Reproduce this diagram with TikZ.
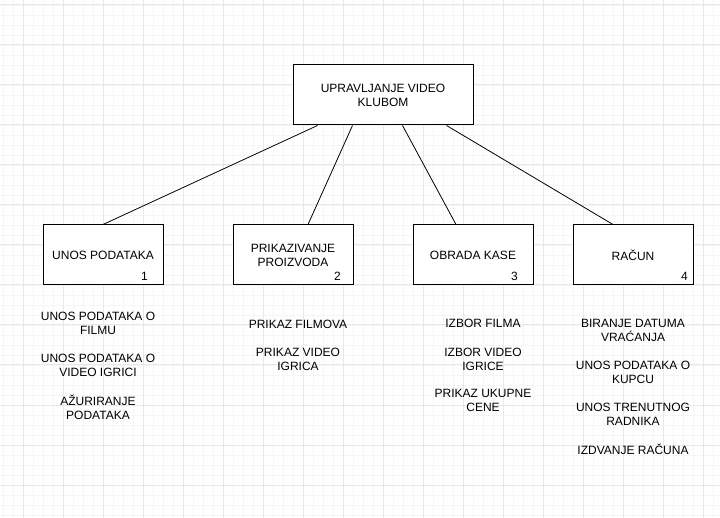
\documentclass[tikz,border=0pt]{standalone}
\usepackage{fontspec}
\setmainfont{Liberation Sans}
\begin{document}
\begin{tikzpicture}[x=1pt,y=-1pt,
  box/.style={draw=black,line width=1pt,fill=white,minimum width=120pt,minimum height=60pt,inner sep=0pt},
  txt/.style={align=center,font=\fontsize{12}{14}\selectfont,inner sep=0pt},
  num/.style={font=\fontsize{12}{14}\selectfont,inner sep=0pt},
  link/.style={draw=black,line width=0.8pt}]
\useasboundingbox (0,0) rectangle (720,518);
\fill[white] (0,0) rectangle (720,518);
% minor grid
\foreach \x in {3,13,...,720} \draw[black!4,line width=0.8pt] (\x,0) -- (\x,518);
\foreach \y in {5,15,...,518} \draw[black!4,line width=0.8pt] (0,\y) -- (720,\y);
% major grid
\foreach \x in {23,63,...,720} \draw[black!9,line width=1pt] (\x,0) -- (\x,518);
\foreach \y in {5,45,...,518} \draw[black!9,line width=1pt] (0,\y) -- (720,\y);

\node[box,minimum width=180pt] (top) at (383,95) {};
\node[txt] at (383,95) {UPRAVLJANJE VIDEO\\KLUBOM};

\node[box] (b1) at (103,255) {};
\node[box] (b2) at (293,255) {};
\node[box] (b3) at (473,255) {};
\node[box] (b4) at (633,255) {};

\node[txt] at (103,255) {UNOS PODATAKA};
\node[txt] at (293,255) {PRIKAZIVANJE\\PROIZVODA};
\node[txt] at (473,255) {OBRADA KASE};
\node[txt] at (633,255) {RAČUN};

\node[num] at ([xshift=-19pt,yshift=9pt]b1.south east) {1};
\node[num] at ([xshift=-16pt,yshift=9pt]b2.south east) {2};
\node[num] at ([xshift=-19pt,yshift=9pt]b3.south east) {3};
\node[num] at ([xshift=-9pt,yshift=9pt]b4.south east) {4};

\draw[link] ([xshift=25pt]top.south west) -- (b1.north);
\draw[link] ([xshift=60pt]top.south west) -- ([xshift=15pt]b2.north);
\draw[link] ([xshift=110pt]top.south west) -- ([xshift=-17pt]b3.north);
\draw[link] ([xshift=154pt]top.south west) -- ([xshift=-20pt]b4.north);

\node[txt] at (98,323) {UNOS PODATAKA O\\FILMU};
\node[txt] at (98,365) {UNOS PODATAKA O\\VIDEO IGRICI};
\node[txt] at (98,407) {AŽURIRANJE\\PODATAKA};

\node[txt] at (298,324) {PRIKAZ FILMOVA};
\node[txt] at (298,359) {PRIKAZ VIDEO\\IGRICA};

\node[txt] at (483,323) {IZBOR FILMA};
\node[txt] at (483,359) {IZBOR VIDEO\\IGRICE};
\node[txt] at (483,400) {PRIKAZ UKUPNE\\CENE};

\node[txt] at (633,330) {BIRANJE DATUMA\\VRAĆANJA};
\node[txt] at (633,372) {UNOS PODATAKA O\\KUPCU};
\node[txt] at (633,414) {UNOS TRENUTNOG\\RADNIKA};
\node[txt] at (633,449) {IZDVANJE RAČUNA};
\end{tikzpicture}
\end{document}
